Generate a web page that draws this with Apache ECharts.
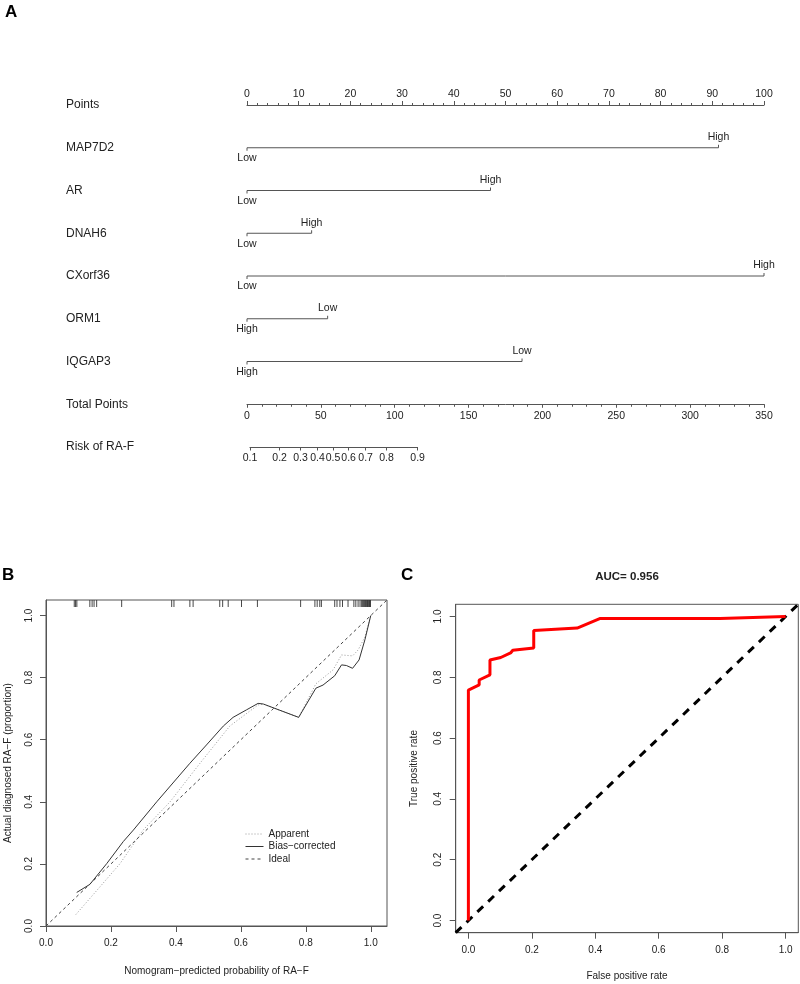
<!DOCTYPE html>
<html><head><meta charset="utf-8">
<script src="https://cdn.jsdelivr.net/npm/echarts@6.0.0/dist/echarts.min.js"></script>
<style>html,body{margin:0;padding:0;background:#fff}#c{width:800px;height:984px}</style>
</head><body><div id="c"></div>
<script>
// ---------- Panel A: nomogram ----------
const rowNames = ['Points','MAP7D2','AR','DNAH6','CXorf36','ORM1','IQGAP3','Total Points','Risk of RA-F'];
const varRows = ['MAP7D2','AR','DNAH6','CXorf36','ORM1','IQGAP3'];
const varMaxPoints = [91.2, 47.1, 12.5, 100, 15.6, 53.2];
const varStartLabels = ['Low','Low','Low','Low','High','High'];
const varEndLabels = ['High','High','High','High','Low','Low'];
const pointsMax = 100;
const totalPointsMax = 350;
const riskTicks = [0.1,0.2,0.3,0.4,0.5,0.6,0.7,0.8,0.9];
const riskTickPoints = [2.0, 22.1, 36.2, 47.7, 58.2, 68.8, 80.3, 94.4, 115.5];

// ---------- Panel B: calibration ----------
const calApparentX = [0.092,0.166,0.228,0.299,0.382,0.474,0.566,0.612,0.653,0.669,0.778,0.831,0.884,0.910,0.944,0.961,0.982,1.0];
const calApparentY = [0.037,0.126,0.201,0.309,0.400,0.524,0.644,0.680,0.712,0.715,0.672,0.780,0.825,0.873,0.870,0.889,0.931,1.0];
const calBiasX = [0.0945,0.135,0.187,0.238,0.269,0.341,0.443,0.494,0.546,0.576,0.617,0.653,0.669,0.778,0.831,0.853,0.889,0.910,0.925,0.944,0.964,0.982,1.0];
const calBiasY = [0.108,0.134,0.201,0.272,0.309,0.400,0.524,0.583,0.644,0.672,0.696,0.717,0.715,0.672,0.766,0.776,0.806,0.841,0.839,0.830,0.857,0.922,1.0];
const idealX = [0, 1.05];
const idealY = [0, 1.05];
const rugX = [0.087,0.091,0.095,0.135,0.142,0.148,0.156,0.233,0.387,0.394,0.443,0.453,0.535,0.544,0.561,0.602,0.651,0.784,
  0.828,0.835,0.843,0.848,0.889,0.896,0.905,0.913,0.930,0.948,0.954,0.961,0.967,
  0.972,0.975,0.978,0.981,0.984,0.986,0.988,0.990,0.992,0.994,0.996,0.998,0.999];
const calTicks = [0,0.2,0.4,0.6,0.8,1.0];

// ---------- Panel C: ROC ----------
const rocFPR = [0,0,0.034,0.034,0.068,0.068,0.102,0.133,0.140,0.206,0.206,0.343,0.414,0.793,1.0];
const rocTPR = [0,0.758,0.775,0.791,0.808,0.857,0.865,0.880,0.889,0.896,0.954,0.962,0.993,0.993,1.0];
const chanceX = [-0.04, 1.04];
const chanceY = [-0.04, 1.04];
const rocTicks = [0,0.2,0.4,0.6,0.8,1.0];
const aucText = 'AUC= 0.956';

// ---------- layout ----------
const FONT = 'Liberation Sans, Arial, Helvetica, sans-serif';
const TXT = '#222';
const LINE = '#555';
const nomLeft = 247, nomWidth = 517, nomTop = 105, rowStep = 42.75;
const nomHeight = rowStep * (rowNames.length - 1);
const pxPerTotal = nomWidth / totalPointsMax;
const totalAxisY = nomTop + rowStep * 7;
const riskAxisY = nomTop + rowStep * 8;

const zip = (a, b) => a.map((v, i) => [v, b[i]]);
const fmt1 = v => (+v).toFixed(1);

const chart = echarts.init(document.getElementById('c'), null, {renderer: 'canvas'});

const baseTick = {show: true, length: 4, lineStyle: {color: LINE, width: 1}};
const baseLine = {show: true, onZero: false, lineStyle: {color: LINE, width: 1}};

const option = {
  animation: false,
  backgroundColor: '#fff',
  textStyle: {fontFamily: FONT},
  title: [
    {text: 'A', left: 5, top: 4, padding: 0, textStyle: {fontSize: 17, fontWeight: 'bold', color: '#000', fontFamily: FONT}},
    {text: 'B', left: 2, top: 567, padding: 0, textStyle: {fontSize: 17, fontWeight: 'bold', color: '#000', fontFamily: FONT}},
    {text: 'C', left: 401, top: 567, padding: 0, textStyle: {fontSize: 17, fontWeight: 'bold', color: '#000', fontFamily: FONT}},
    {text: aucText, left: 627, textAlign: 'center', top: 571, padding: 0, textStyle: {fontSize: 11.5, fontWeight: 'bold', color: TXT, fontFamily: FONT}}
  ],
  legend: {
    orient: 'vertical', left: 240, top: 823, itemWidth: 18, itemHeight: 8, itemGap: 0.5,
    data: ['Apparent', 'Bias\u2212corrected', 'Ideal'],
    itemStyle: {opacity: 0},
    lineStyle: {width: 1},
    textStyle: {fontSize: 10, color: TXT, fontFamily: FONT, lineHeight: 12},
    selectedMode: false
  },
  grid: [
    {left: nomLeft, width: nomWidth, top: nomTop, height: nomHeight},
    {left: nomLeft, width: nomWidth, top: totalAxisY - 10, height: 10},
    {left: nomLeft + riskTickPoints[0] * pxPerTotal, width: (riskTickPoints[riskTickPoints.length - 1] - riskTickPoints[0]) * pxPerTotal, top: riskAxisY - 10, height: 10},
    {left: 46, top: 600, width: 341, height: 326, show: true, borderColor: LINE, borderWidth: 1},
    {left: 455.7, top: 604.3, width: 342.6, height: 328.4, show: true, borderColor: LINE, borderWidth: 1}
  ],
  xAxis: [
    {gridIndex: 0, type: 'value', position: 'top', min: 0, max: pointsMax, interval: 10,
      axisLine: baseLine, axisTick: baseTick,
      minorTick: {show: true, splitNumber: 5, length: 2, lineStyle: {color: LINE}},
      axisLabel: {fontSize: 10.5, color: TXT, margin: 5, fontFamily: FONT},
      splitLine: {show: false}},
    {gridIndex: 1, type: 'value', position: 'bottom', min: 0, max: totalPointsMax, interval: 50,
      axisLine: baseLine, axisTick: Object.assign({}, baseTick, {length: 3.5}),
      minorTick: {show: true, splitNumber: 5, length: 2.5, lineStyle: {color: LINE}},
      axisLabel: {fontSize: 10.5, color: TXT, margin: 6, fontFamily: FONT},
      splitLine: {show: false}},
    {gridIndex: 2, type: 'value', position: 'bottom', min: riskTickPoints[0], max: riskTickPoints[riskTickPoints.length - 1],
      axisLine: baseLine,
      axisTick: Object.assign({}, baseTick, {length: 3.5, customValues: riskTickPoints}),
      axisLabel: {fontSize: 10.5, color: TXT, margin: 6, fontFamily: FONT, customValues: riskTickPoints,
        formatter: v => {
          let best = 0;
          riskTickPoints.forEach((p, i) => { if (Math.abs(p - v) < Math.abs(riskTickPoints[best] - v)) best = i; });
          return String(riskTicks[best]);
        }},
      splitLine: {show: false}},
    {gridIndex: 3, type: 'value', min: 0, max: 1.05,
      name: 'Nomogram\u2212predicted probability of RA\u2212F', nameLocation: 'middle', nameGap: 40,
      nameTextStyle: {fontSize: 10, color: TXT, fontFamily: FONT},
      axisLine: baseLine,
      axisTick: Object.assign({}, baseTick, {length: 6, customValues: calTicks}),
      axisLabel: {fontSize: 10, color: TXT, margin: 12, fontFamily: FONT, customValues: calTicks, formatter: fmt1},
      splitLine: {show: false}},
    {gridIndex: 4, type: 'value', min: -0.04, max: 1.04,
      name: 'False positive rate', nameLocation: 'middle', nameGap: 39,
      nameTextStyle: {fontSize: 10, color: TXT, fontFamily: FONT},
      axisLine: baseLine,
      axisTick: Object.assign({}, baseTick, {length: 6, customValues: rocTicks}),
      axisLabel: {fontSize: 10, color: TXT, margin: 13, fontFamily: FONT, customValues: rocTicks, formatter: fmt1},
      splitLine: {show: false}}
  ],
  yAxis: [
    {gridIndex: 0, type: 'category', data: rowNames, inverse: true, boundaryGap: false,
      axisLine: {show: false}, axisTick: {show: false},
      axisLabel: {align: 'left', margin: nomLeft - 66, fontSize: 12, color: TXT, fontFamily: FONT, interval: 0}},
    {gridIndex: 1, type: 'value', show: false},
    {gridIndex: 2, type: 'value', show: false},
    {gridIndex: 3, type: 'value', min: 0, max: 1.05,
      name: 'Actual diagnosed RA\u2212F (proportion)', nameLocation: 'middle', nameGap: 33, nameRotate: 90,
      nameTextStyle: {fontSize: 10, color: TXT, fontFamily: FONT},
      axisLine: baseLine,
      axisTick: Object.assign({}, baseTick, {length: 6, customValues: calTicks}),
      axisLabel: {fontSize: 10, color: TXT, margin: 12, rotate: 90, fontFamily: FONT, customValues: calTicks, formatter: fmt1},
      splitLine: {show: false}},
    {gridIndex: 4, type: 'value', min: -0.04, max: 1.04,
      name: 'True positive rate', nameLocation: 'middle', nameGap: 36, nameRotate: 90,
      nameTextStyle: {fontSize: 10, color: TXT, fontFamily: FONT},
      axisLine: baseLine,
      axisTick: Object.assign({}, baseTick, {length: 6, customValues: rocTicks}),
      axisLabel: {fontSize: 10, color: TXT, margin: 12, rotate: 90, fontFamily: FONT, customValues: rocTicks, formatter: fmt1},
      splitLine: {show: false}}
  ],
  series: [
    // nomogram variable scales
    {type: 'custom', name: 'nomogram', xAxisIndex: 0, yAxisIndex: 0, silent: true,
      data: varRows.map((r, i) => [varMaxPoints[i], rowNames.indexOf(r)]),
      encode: {x: 0, y: 1},
      renderItem: (params, api) => {
        const i = params.dataIndex;
        const row = api.value(1);
        const p0 = api.coord([0, row]);
        const p1 = api.coord([api.value(0), row]);
        const st = {stroke: LINE, lineWidth: 1};
        const ts = {fontSize: 10.5, fill: TXT, fontFamily: FONT, align: 'center'};
        return {type: 'group', children: [
          {type: 'line', shape: {x1: p0[0], y1: p0[1], x2: p1[0], y2: p1[1]}, style: st},
          {type: 'line', shape: {x1: p0[0], y1: p0[1], x2: p0[0], y2: p0[1] + 3}, style: st},
          {type: 'line', shape: {x1: p1[0], y1: p1[1], x2: p1[0], y2: p1[1] - 3}, style: st},
          {type: 'text', style: Object.assign({text: varStartLabels[i], x: p0[0], y: p0[1] + 5, verticalAlign: 'top'}, ts)},
          {type: 'text', style: Object.assign({text: varEndLabels[i], x: p1[0], y: p1[1] - 5, verticalAlign: 'bottom'}, ts)}
        ]};
      }},
    // calibration
    {type: 'line', name: 'Ideal', xAxisIndex: 3, yAxisIndex: 3, data: zip(idealX, idealY), symbol: 'none',
      lineStyle: {color: '#444', width: 1, type: [3, 3]}, itemStyle: {color: '#444'}, silent: true},
    {type: 'line', name: 'Apparent', xAxisIndex: 3, yAxisIndex: 3, data: zip(calApparentX, calApparentY), symbol: 'none',
      lineStyle: {color: '#999', width: 1, type: [1, 2]}, itemStyle: {color: '#999'}, silent: true},
    {type: 'line', name: 'Bias\u2212corrected', xAxisIndex: 3, yAxisIndex: 3, data: zip(calBiasX, calBiasY), symbol: 'none',
      lineStyle: {color: '#333', width: 1}, itemStyle: {color: '#333'}, silent: true},
    {type: 'custom', name: 'rug', xAxisIndex: 3, yAxisIndex: 3, silent: true,
      data: rugX.map(v => [v, 1.05]), encode: {x: 0, y: 1},
      renderItem: (params, api) => {
        const p = api.coord([api.value(0), api.value(1)]);
        return {type: 'line', shape: {x1: p[0], y1: p[1], x2: p[0], y2: p[1] + 7}, style: {stroke: '#333', lineWidth: 0.9}};
      }},
    // ROC
    {type: 'line', name: 'chance', xAxisIndex: 4, yAxisIndex: 4, data: zip(chanceX, chanceY), symbol: 'none',
      lineStyle: {color: '#000', width: 3, type: [8, 7]}, silent: true},
    {type: 'line', name: 'ROC', xAxisIndex: 4, yAxisIndex: 4, data: zip(rocFPR, rocTPR), symbol: 'none',
      lineStyle: {color: '#ff0000', width: 3}, silent: true}
  ]
};
chart.setOption(option);
</script>
</body></html>
